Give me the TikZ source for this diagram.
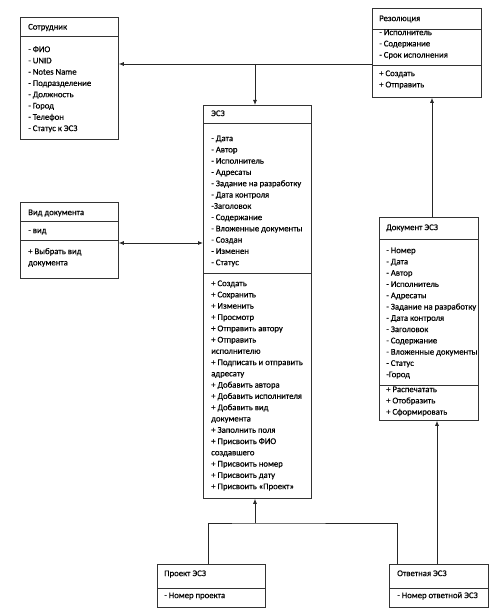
\documentclass[tikz,border=0pt]{standalone}
\usepackage{fontspec}
\setmainfont{Carlito}[FakeBold=0.4]
\usetikzlibrary{arrows.meta}
\begin{document}
\begin{tikzpicture}[x=1pt,y=-1pt,
  umlbox/.style={draw=black!80, line width=0.8pt, rectangle, inner sep=0pt, anchor=north west},
  sepline/.style={draw=black!80, line width=0.8pt},
  conn/.style={draw=black!85, line width=0.8pt},
  arr/.style={conn, -{Latex[length=5pt,width=4pt]}},
  darr/.style={conn, {Latex[length=5pt,width=4pt]}-{Latex[length=5pt,width=4pt]}},
  txt/.style={anchor=west, inner sep=0pt, text height=6.2pt, text depth=2pt, font=\fontsize{8.7}{11}\selectfont, text=black}]
\newcommand\umlitems[4]{%
  \foreach \t [count=\i] in {#4} {\node[txt] (#1-\i) at ({#2},{#3+(\i-1)*11.28}) {\t};}}
\useasboundingbox (0,0) rectangle (497,612);
% boxes
\node[umlbox, minimum width=98pt, minimum height=122pt] (sotr) at (20,17) {};
\node[umlbox, minimum width=98pt, minimum height=76pt] (vid) at (20,202) {};
\node[umlbox, minimum width=108pt, minimum height=393pt] (esz) at (203,105) {};
\node[umlbox, minimum width=109pt, minimum height=89pt] (rez) at (372,8) {};
\node[umlbox, minimum width=99pt, minimum height=203pt] (doc) at (379,217) {};
\node[umlbox, minimum width=108pt, minimum height=43pt] (proj) at (157,564) {};
\node[umlbox, minimum width=99pt, minimum height=43pt] (otv) at (389,564) {};
% separators
\draw[sepline] (sotr.west |- 0,36) -- (sotr.east |- 0,36);
\draw[sepline] (vid.west |- 0,221) -- (vid.east |- 0,221);
\draw[sepline] (vid.west |- 0,240) -- (vid.east |- 0,240);
\draw[sepline] (esz.west |- 0,123) -- (esz.east |- 0,123);
\draw[sepline] (esz.west |- 0,273) -- (esz.east |- 0,273);
\draw[sepline] (rez.west |- 0,29) -- (rez.east |- 0,29);
\draw[sepline] (rez.west |- 0,65) -- (rez.east |- 0,65);
\draw[sepline] (doc.west |- 0,239) -- (doc.east |- 0,239);
\draw[sepline] (doc.west |- 0,385) -- (doc.east |- 0,385);
\draw[sepline] (proj.west |- 0,588) -- (proj.east |- 0,588);
\draw[sepline] (otv.west |- 0,588) -- (otv.east |- 0,588);
% texts
\node[txt] (sotr-t) at (28,27.5) {Сотрудник};
\umlitems{sotr}{28}{50}{- ФИО,- UNID,- Notes Name,- Подразделение,- Должность,- Город,- Телефон,- Статус к ЭСЗ}
\node[txt] (vid-t) at (28,213) {Вид документа};
\node[txt] (vid-a) at (28,231) {- вид};
\umlitems{vidm}{28}{252}{+ Выбрать вид,документа}
\node[txt] (esz-t) at (211,114) {ЭСЗ};
\umlitems{esza}{211}{139}{- Дата,- Автор,- Исполнитель,- Адресаты,- Задание на разработку,- Дата контроля,-Заголовок,- Содержание,- Вложенные документы,- Создан,- Изменен,- Статус}
\umlitems{eszm}{211}{284}{+ Создать,+ Сохранить,+ Изменить,+ Просмотр,+ Отправить автору,+ Отправить,исполнителю,+ Подписать и отправить,адресату,+ Добавить автора,+ Добавить исполнителя,+ Добавить вид,документа,+ Заполнить поля,+ Присвоить ФИО,создавшего,+ Присвоить номер,+ Присвоить дату,+ Присвоить «Проект»}
\node[txt] (rez-t) at (379,19) {Резолюция};
\umlitems{reza}{379}{33}{- Исполнитель,- Содержание,- Срок исполнения}
\umlitems{rezm}{379}{74}{+ Создать,+ Отправить}
\node[txt] (doc-t) at (386,228) {Документ ЭСЗ};
\umlitems{doca}{386}{251}{- Номер,- Дата,- Автор,- Исполнитель,- Адресаты,- Задание на разработку,- Дата контроля,- Заголовок,- Содержание,- Вложенные документы,- Статус,-Город}
\umlitems{docm}{386}{390}{+ Распечатать,+ Отобразить,+ Сформировать}
\node[txt] (proj-t) at (164,574) {Проект ЭСЗ};
\node[txt] (proj-a) at (164,596) {- Номер проекта};
\node[txt] (otv-t) at (397,574) {Ответная ЭСЗ};
\node[txt] (otv-a) at (397,596) {- Номер ответной ЭСЗ};
% helper coordinates
\coordinate (cR) at (432,64);
\coordinate (cJ) at (255,64);
\coordinate (cO) at (437,0);
\coordinate (cP) at (208,0);
\coordinate (cQ) at (397,0);
\coordinate (cB) at (255,523);
\coordinate (cV) at (0,243);
% connectors
\draw[arr] (rez.west |- cR) -- (sotr.east |- cR);
\draw[arr] (cJ) -- (esz.north -| cJ);
\draw[darr] (vid.east |- cV) -- (esz.west |- cV);
\draw[arr] (doc.north -| cR) -- (rez.south -| cR);
\draw[arr] (otv.north -| cO) -- (doc.south -| cO);
\draw[conn] (proj.north -| cP) |- (cB) -| (otv.north -| cQ);
\draw[arr] (cB) -- (esz.south -| cB);
\end{tikzpicture}
\end{document}
